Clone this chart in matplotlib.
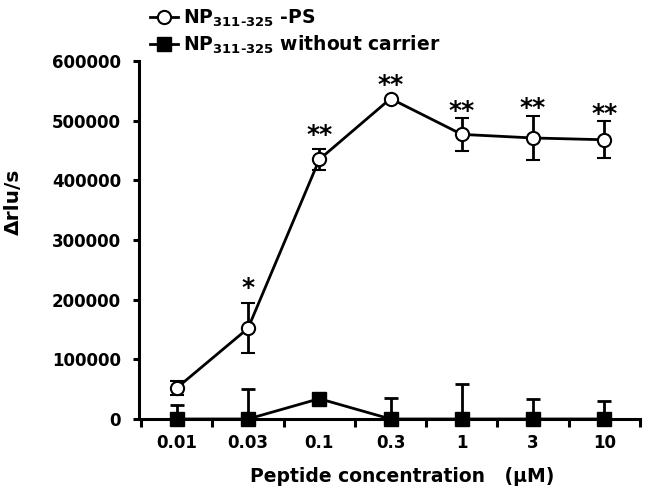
import matplotlib
matplotlib.use("Agg")
import matplotlib.pyplot as plt
from matplotlib.lines import Line2D
import numpy as np

plt.rcParams['font.family'] = ['DejaVu Sans']
plt.rcParams['font.weight'] = 'bold'
plt.rcParams['mathtext.fontset'] = 'dejavusans'
plt.rcParams['mathtext.default'] = 'bf'

categories = ["0.01", "0.03", "0.1", "0.3", "1", "3", "10"]
ps_values = [52000, 152000, 435000, 537000, 477000, 471000, 468000]
ps_err = [11000, 42000, 18000, 0, 28000, 37000, 31000]
nc_values = [0, 0, 34000, 0, 0, 0, 0]
nc_err_low = [0, 0, 9000, 0, 0, 0, 0]
nc_err_high = [23000, 51000, 9000, 35000, 58000, 33000, 30000]
stars = ["", "*", "**", "**", "**", "**", "**"]
star_y = [0, 219000, 476000, 560000, 517000, 521000, 512000]
yticks = [0, 100000, 200000, 300000, 400000, 500000, 600000]
label_ps = r"NP$_{311\text{-}325}$ -PS"
label_nc = r"NP$_{311\text{-}325}$ without carrier"

fig = plt.figure(figsize=(6.48, 4.97), dpi=100)
ax = fig.add_axes([139/648, 1-419/497, (640-139)/648, (419-61)/497])

x = np.arange(len(categories))

ax.errorbar(x, nc_values, yerr=[nc_err_low, nc_err_high], color='black', lw=2,
            marker='s', ms=9.5, mfc='black', mec='black', capsize=5, capthick=2,
            elinewidth=2, clip_on=False, zorder=3)
ax.errorbar(x, ps_values, yerr=ps_err, color='black', lw=2,
            marker='o', ms=9.5, mfc='white', mec='black', mew=1.5, capsize=5, capthick=2,
            elinewidth=2, clip_on=False, zorder=4)

for xi, s, sy in zip(x, stars, star_y):
    if s:
        ax.text(xi, sy, s, ha='center', va='center', fontsize=18, fontweight='bold')

ax.set_xlim(-0.53, 6.47)
ax.set_ylim(0, 600000)
ax.set_yticks(yticks)
ax.set_yticklabels([str(v) for v in yticks])
ax.set_xticks(x)
ax.set_xticklabels(categories)
ax.set_xticks(np.arange(-0.5, 7, 1.0), minor=True)
ax.tick_params(axis='x', which='major', length=0, pad=11, labelsize=12)
ax.tick_params(axis='x', which='minor', length=5.5, width=2.2, direction='out')
ax.tick_params(axis='y', length=4, width=2.2, direction='out', labelsize=12, pad=9)
for lab in ax.get_xticklabels() + ax.get_yticklabels():
    lab.set_fontweight('bold')

for side in ['top', 'right']:
    ax.spines[side].set_visible(False)
for side in ['left', 'bottom']:
    ax.spines[side].set_linewidth(2.2)

ax.set_xlabel("Peptide concentration   (\u00b5M)", fontsize=13.5, fontweight='bold')
ax.xaxis.set_label_coords(0.525, -0.135)
ax.set_ylabel("\u0394rlu/s", fontsize=14.5, fontweight='bold')
ax.yaxis.set_label_coords(-0.232, 0.606)

handles = [
    Line2D([], [], color='black', lw=2, marker='o', ms=9.5, mfc='white', mec='black', mew=1.5),
    Line2D([], [], color='black', lw=2, marker='s', ms=9.5, mfc='black', mec='black'),
]
fig.legend(handles, [label_ps, label_nc], loc='upper left', bbox_to_anchor=(150/648, 1 - 8/497),
           frameon=False, handlelength=1.5, handletextpad=0.27, labelspacing=0.25,
           fontsize=13.5, borderaxespad=0, borderpad=0)

fig.savefig("out.png", dpi=100)
